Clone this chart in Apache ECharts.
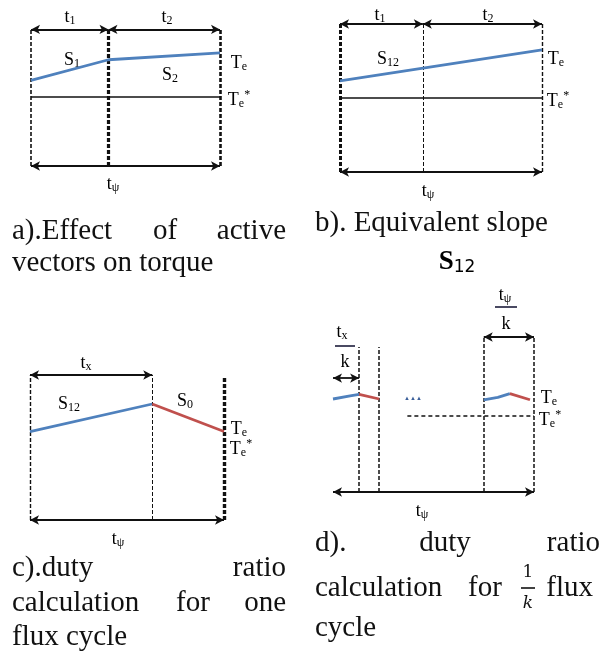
<!DOCTYPE html>
<html><head><meta charset="utf-8">
<script src="https://cdn.jsdelivr.net/npm/echarts@6/dist/echarts.min.js"></script>
<style>html,body{margin:0;padding:0;background:#fff}#c{width:604px;height:653px}</style>
</head><body><div id="c"></div><script>
// ---- Panel a: effect of active vectors ----
const aBounds = [0, 4.1, 10];
const aTorqueX = [0, 4.1, 10];
const aTorqueY = [6.2, 7.7, 8.2];
const aRef = 5;
// ---- Panel b: equivalent slope ----
const bBounds = [0, 4.1, 10];
const bTorqueX = [0, 10];
const bTorqueY = [6.15, 8.25];
const bRef = 5;
// ---- Panel c: one flux cycle ----
const cBounds = [0, 6.3, 10];
const cRiseX = [0, 6.3], cRiseY = [6.1, 8.0];
const cFallX = [6.3, 10], cFallY = [8.0, 6.1];
// ---- Panel d: 1/k flux cycle ----
const dBounds = [1.3, 2.3, 7.5, 10];
const dRise1X = [0, 0.85, 1.3], dRise1Y = [6.0, 6.2, 6.3];
const dFall1X = [1.3, 2.3], dFall1Y = [6.3, 6.0];
const dRise2X = [7.5, 8.2, 8.8], dRise2Y = [5.95, 6.1, 6.35];
const dFall2X = [8.8, 9.8], dFall2Y = [6.35, 5.95];
const dRef = 4.9, dRefStart = 3.7;

const BLUE = '#4f81bd', RED = '#c0504d', INK = '#111';
const pts = (xs, ys) => xs.map((x, i) => [x, ys[i]]);

const grids = [
  {left: 31, top: 28, width: 189, height: 138},
  {left: 340, top: 24, width: 202, height: 148},
  {left: 30, top: 375, width: 194, height: 145},
  {left: 333, top: 337, width: 201, height: 155}
];
const xAxis = grids.map((g, i) => ({type: 'value', gridIndex: i, min: 0, max: 10, show: false}));
const yAxis = grids.map((g, i) => ({type: 'value', gridIndex: i, min: 0, max: 10, show: false}));

function vline(x, y0, y1, w, dash) {
  return [{coord: [x, y0], symbol: 'none', lineStyle: {color: INK, width: w, type: dash || [4, 2]}}, {coord: [x, y1], symbol: 'none'}];
}
function arrow(x0, x1, y) {
  return [{coord: [x0, y], symbol: 'arrow', symbolSize: [7, 9], lineStyle: {color: INK, width: 1.8, type: 'solid'}}, {coord: [x1, y], symbol: 'arrow', symbolSize: [7, 9]}];
}
function hline(x0, x1, y, w, dash) {
  return [{coord: [x0, y], symbol: 'none', lineStyle: {color: INK, width: w, type: dash || 'solid'}}, {coord: [x1, y], symbol: 'none'}];
}
function lineSeries(gi, data, color, marks) {
  const s = {type: 'line', xAxisIndex: gi, yAxisIndex: gi, data: data, symbol: 'none',
    lineStyle: {color: color, width: 2.8}, z: 5, silent: true, animation: false};
  if (marks) s.markLine = {silent: true, animation: false, label: {show: false}, symbol: 'none', data: marks, z: 3};
  return s;
}

const series = [
  lineSeries(0, pts(aTorqueX, aTorqueY), BLUE, [
    vline(aBounds[0], 0, 10, 1.6), vline(aBounds[1], 0, 10, 3.2), vline(aBounds[2], 0, 10, 2.6),
    arrow(aBounds[0], aBounds[1], 9.9), arrow(aBounds[1], aBounds[2], 9.9), arrow(aBounds[0], aBounds[2], 0),
    hline(0, 10, aRef, 1.5)
  ]),
  lineSeries(1, pts(bTorqueX, bTorqueY), BLUE, [
    vline(bBounds[0], 0, 10, 3), vline(bBounds[1], 0, 10, 1), vline(bBounds[2], 0, 10, 1.4),
    arrow(bBounds[0], bBounds[1], 10), arrow(bBounds[1], bBounds[2], 10), arrow(bBounds[0], bBounds[2], 0),
    hline(0, 10, bRef, 1.5)
  ]),
  lineSeries(2, pts(cRiseX, cRiseY), BLUE, [
    vline(cBounds[0], 0, 10, 1.4), vline(cBounds[1], 0, 10, 1), vline(cBounds[2], 0, 9.85, 3.4),
    arrow(cBounds[0], cBounds[1], 10), arrow(cBounds[0], cBounds[2], 0)
  ]),
  lineSeries(2, pts(cFallX, cFallY), RED),
  lineSeries(3, pts(dRise1X, dRise1Y), BLUE, [
    vline(dBounds[0], 0, 9.35, 1.5), vline(dBounds[1], 0, 9.35, 1.5),
    vline(dBounds[2], 0, 10, 1.5), vline(dBounds[3], 0, 10, 1.5),
    arrow(dBounds[2], dBounds[3], 10), arrow(0, dBounds[0], 7.35), arrow(0, 10, 0),
    hline(dRefStart, 10, dRef, 1.5, [4, 3])
  ]),
  lineSeries(3, pts(dFall1X, dFall1Y), RED),
  lineSeries(3, pts(dRise2X, dRise2Y), BLUE),
  lineSeries(3, pts(dFall2X, dFall2Y), RED)
];

// ---- text ----
const SERIF = '"Liberation Serif", "Times New Roman", serif';
const LC = '#1c1c3a';
const rich = {
  m: {fontFamily: SERIF, fontSize: 18, color: LC, lineHeight: 21, verticalAlign: 'bottom'},
  s: {fontFamily: SERIF, fontSize: 12, color: LC, lineHeight: 12, verticalAlign: 'bottom'},
  p: {fontFamily: SERIF, fontSize: 12, color: LC, lineHeight: 12, verticalAlign: 'top'}
};
function lbl(x, y, text) {
  return {type: 'text', x: x, y: y, silent: true, style: {text: text, rich: rich, textAlign: 'center', textVerticalAlign: 'middle'}};
}
const TE = '{m|T}{s|e}', TC = '{m|T}{s|e}{p|*}', TPSI = '{m|t}{s|ψ}';
const CAP = {fontFamily: SERIF, fontSize: 29, fill: '#111'};
function cap(x, y, text, align) {
  return {type: 'text', x: x, y: y, silent: true, style: Object.assign({text: text, textAlign: align || 'left', textVerticalAlign: 'middle'}, CAP)};
}
function bar(x0, x1, y) {
  return {type: 'line', silent: true, shape: {x1: x0, y1: y, x2: x1, y2: y}, style: {stroke: '#1c1c3a', lineWidth: 1.6}};
}

const graphic = [
  // panel a labels
  lbl(70, 16, '{m|t}{s|1}'), lbl(167, 16, '{m|t}{s|2}'),
  lbl(72, 59, '{m|S}{s|1}'), lbl(170, 74, '{m|S}{s|2}'),
  lbl(239, 62, TE), lbl(239, 99, TC), lbl(113, 183, TPSI),
  // panel b labels
  lbl(380, 14, '{m|t}{s|1}'), lbl(488, 14, '{m|t}{s|2}'),
  lbl(388, 58, '{m|S}{s|12}'), lbl(556, 58, TE), lbl(558, 100, TC), lbl(428, 190, TPSI),
  // panel c labels
  lbl(86, 362, '{m|t}{s|x}'), lbl(69, 403, '{m|S}{s|12}'), lbl(185, 400, '{m|S}{s|0}'),
  lbl(239, 428, TE), lbl(241, 448, TC), lbl(118, 538, TPSI),
  // panel d labels
  lbl(342, 331, '{m|t}{s|x}'), bar(335, 355, 346), lbl(345, 361, '{m|k}'),
  lbl(505, 294, TPSI), bar(495, 517, 307), lbl(506, 323, '{m|k}'),
  lbl(549, 397, TE), lbl(550, 419, TC), lbl(422, 510, TPSI),
  {type: 'text', x: 413, y: 398, silent: true, style: {text: '▲▲▲', fontSize: 6, fill: '#3b5f9a', textAlign: 'center', textVerticalAlign: 'middle'}},
  // captions a
  cap(12, 231, 'a).Effect'), cap(165, 231, 'of', 'center'), cap(286, 231, 'active', 'right'),
  cap(12, 263, 'vectors on torque'),
  // caption b
  cap(315, 223, 'b). Equivalent slope'),
  {type: 'text', x: 457, y: 262, silent: true, style: {text: '{b|S}{s|12}', textAlign: 'center', textVerticalAlign: 'middle',
    rich: {b: {fontFamily: SERIF, fontWeight: 'bold', fontSize: 27, color: '#111', lineHeight: 28, verticalAlign: 'bottom'},
           s: {fontFamily: '"DejaVu Sans", sans-serif', fontSize: 17, color: '#111', lineHeight: 17, verticalAlign: 'bottom'}}}},
  // caption c
  cap(12, 568, 'c).duty'), cap(286, 568, 'ratio', 'right'),
  cap(12, 603, 'calculation'), cap(193, 603, 'for', 'center'), cap(286, 603, 'one', 'right'),
  cap(12, 637, 'flux cycle'),
  // caption d
  cap(315, 543, 'd).'), cap(445, 543, 'duty', 'center'), cap(600, 543, 'ratio', 'right'),
  cap(315, 588, 'calculation'), cap(485, 588, 'for', 'center'),
  {type: 'text', x: 528, y: 573, silent: true, style: {text: '1', fontFamily: '"DejaVu Serif", serif', fontSize: 17, fill: '#111', textAlign: 'center', textVerticalAlign: 'middle'}},
  {type: 'line', silent: true, shape: {x1: 521, y1: 588, x2: 535, y2: 588}, style: {stroke: '#111', lineWidth: 1.6}},
  {type: 'text', x: 528, y: 604, silent: true, style: {text: 'k', fontFamily: '"DejaVu Serif", serif', fontStyle: 'italic', fontSize: 17, fill: '#111', textAlign: 'center', textVerticalAlign: 'middle'}},
  cap(593, 588, 'flux', 'right'),
  cap(315, 628, 'cycle')
];

const chart = echarts.init(document.getElementById('c'), null, {renderer: 'canvas'});
chart.setOption({animation: false, backgroundColor: '#fff', grid: grids, xAxis: xAxis, yAxis: yAxis, series: series, graphic: graphic});
</script></body></html>
